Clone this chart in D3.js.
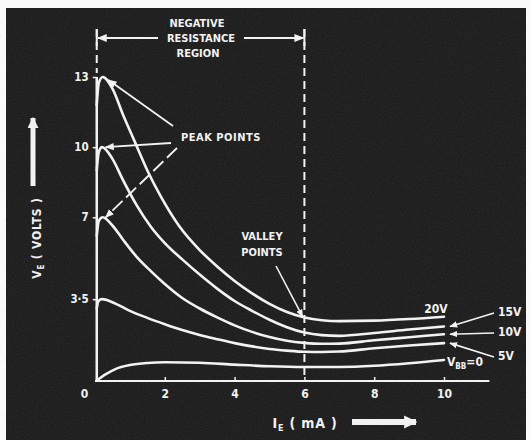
<!DOCTYPE html>
<html>
<head>
<meta charset="utf-8">
<script src="https://cdn.jsdelivr.net/npm/d3@7"></script>
<style>
  html, body { margin: 0; padding: 0; background: #fff; }
  svg text { font-family: "DejaVu Sans Condensed", "DejaVu Sans", sans-serif; font-weight: bold; fill: #f2f2f2; }
</style>
</head>
<body>
<script>
// UJT emitter characteristics, V_E vs I_E, one curve per V_BB
var seriesNames = ["20V", "15V", "10V", "5V", "VBB=0"];
var peakValues = [13, 10, 7, 3.5];
var yTickLabels = ["3·5", "7", "10", "13"];
var xTickValues = [0, 2, 4, 6, 8, 10];

// [I_E (mA), V_E (V)]
var curve20 = [[0.05,11.8],[0.11,12.75],[0.22,13.0],[0.5,12.5],[0.8,11.4],[1.12,10.3],[1.5,9.0],[1.9,7.85],
    [2.4,6.65],[3.0,5.6],[3.5,4.9],[4.0,4.28],[4.5,3.75],[5.0,3.3],[5.5,2.95],[6.0,2.72],[6.5,2.6],
    [7,2.56],[8,2.58],[9,2.65],[10,2.75]];
var curve15 = [[0.05,9.0],[0.11,9.8],[0.2,10.0],[0.5,9.5],[0.8,8.6],[1.2,7.5],[1.6,6.6],[2.0,5.9],
    [2.5,5.2],[3.0,4.55],[3.5,3.95],[4.0,3.42],[4.5,3.0],[5.0,2.62],[5.5,2.3],[6.0,2.07],[6.5,1.96],
    [7,1.93],[8,2.05],[9,2.2],[10,2.33]];
var curve10 = [[0.05,6.2],[0.11,6.85],[0.22,7.0],[0.5,6.65],[0.8,6.05],[1.2,5.3],[1.6,4.7],[2.0,4.15],
    [2.5,3.55],[3.0,3.1],[3.5,2.72],[4.0,2.38],[4.5,2.1],[5.0,1.88],[5.5,1.72],[6.0,1.63],[6.5,1.59],
    [7,1.6],[8,1.74],[9,1.87],[10,2.0]];
var curve5 = [[0.05,3.1],[0.1,3.42],[0.2,3.5],[0.6,3.3],[1.0,3.0],[1.5,2.7],[2.0,2.43],[2.5,2.18],
    [3.0,1.97],[3.5,1.79],[4.0,1.62],[4.5,1.48],[5.0,1.37],[5.5,1.3],[6.0,1.25],[6.5,1.24],[7,1.26],
    [8,1.4],[9,1.52],[10,1.62]];
var curve0 = [[0.05,0.02],[0.3,0.28],[0.6,0.52],[1.0,0.68],[1.5,0.77],[2,0.8],[3,0.78],[4,0.7],
    [5,0.63],[6,0.6],[7,0.6],[8,0.65],[9,0.76],[10,0.9]];
var curves = [curve20, curve15, curve10, curve5, curve0];

var width = 530, height = 440;
var svg = d3.select("body").append("svg")
    .attr("width", width)
    .attr("height", height);

var defs = svg.append("defs");
defs.append("marker")
    .attr("id", "head")
    .attr("viewBox", "0 0 10 10")
    .attr("refX", 9).attr("refY", 5)
    .attr("markerWidth", 5).attr("markerHeight", 5)
    .attr("markerUnits", "strokeWidth")
    .attr("orient", "auto-start-reverse")
    .append("path").attr("d", "M0,1 L10,5 L0,9 Z").attr("fill", "#f2f2f2");
defs.append("marker")
    .attr("id", "bighead")
    .attr("viewBox", "0 0 10 10")
    .attr("refX", 9).attr("refY", 5)
    .attr("markerWidth", 2.2).attr("markerHeight", 2.2)
    .attr("markerUnits", "strokeWidth")
    .attr("orient", "auto")
    .append("path").attr("d", "M0,0 L10,5 L0,10 Z").attr("fill", "#f2f2f2");

// grainy photo background
var grain = defs.append("filter").attr("id", "grain");
grain.append("feTurbulence").attr("type", "fractalNoise").attr("baseFrequency", 0.9).attr("numOctaves", 2).attr("seed", 3);
grain.append("feColorMatrix").attr("type", "matrix")
    .attr("values", "0 0 0 0 0.5  0 0 0 0 0.5  0 0 0 0 0.5  0 0 0 0.35 0");

svg.append("rect").attr("x", 6).attr("y", 8).attr("width", 520).attr("height", 432).attr("fill", "#161616");
svg.append("rect").attr("x", 6).attr("y", 8).attr("width", 520).attr("height", 432)
    .attr("filter", "url(#grain)").attr("opacity", 0.4);

var x = d3.scaleLinear().domain([0, 10]).range([95, 444]);
var y = d3.scaleLinear().domain([0, 13]).range([381, 77]);

var ink = "#f2f2f2";

// x axis
var xAxis = svg.append("g")
    .attr("transform", "translate(0," + y(0) + ")")
    .call(d3.axisBottom(x).tickValues(xTickValues).tickSize(-4).tickPadding(8));
xAxis.select(".domain").remove();
xAxis.selectAll("line").attr("stroke", ink).attr("stroke-width", 1.5);
xAxis.selectAll("text").attr("font-size", 12).attr("fill", ink);
xAxis.selectAll(".tick").filter(function (d) { return d === 0; })
    .select("line").remove();
xAxis.selectAll(".tick").filter(function (d) { return d === 0; })
    .select("text").attr("x", -11);
svg.append("line")
    .attr("x1", x(0)).attr("x2", x(11.3))
    .attr("y1", y(0)).attr("y2", y(0))
    .attr("stroke", ink).attr("stroke-width", 2);

// y axis
var yAxis = svg.append("g")
    .attr("transform", "translate(" + x(0.05) + ",0)")
    .call(d3.axisLeft(y).tickValues([3.5, 7, 10, 13]).tickSize(4).tickPadding(4)
        .tickFormat(function (d, i) { return yTickLabels[i]; }));
yAxis.select(".domain").attr("stroke", ink).attr("stroke-width", 2.5)
    .attr("d", "M0," + y(0) + "V" + y(13));
yAxis.selectAll("line").attr("stroke", ink).attr("stroke-width", 1.5);
yAxis.selectAll("text").attr("font-size", 11.5).attr("fill", ink);

// characteristic curves
var line = d3.line()
    .x(function (d) { return x(d[0]); })
    .y(function (d) { return y(d[1]); })
    .curve(d3.curveMonotoneX);

svg.append("g").selectAll("path")
    .data(curves)
    .enter().append("path")
    .attr("d", line)
    .attr("fill", "none")
    .attr("stroke", ink)
    .attr("stroke-width", 2.6)
    .attr("stroke-linecap", "round");

// negative resistance region
[0.05, 6].forEach(function (v) {
    svg.append("line")
        .attr("x1", x(v)).attr("x2", x(v))
        .attr("y1", 29).attr("y2", v === 6 ? y(0) : y(13) - 4)
        .attr("stroke", ink).attr("stroke-width", 2)
        .attr("stroke-dasharray", "8,5");
    svg.append("line")
        .attr("x1", x(v)).attr("x2", x(v))
        .attr("y1", 29).attr("y2", 46)
        .attr("stroke", ink).attr("stroke-width", 2);
});
svg.append("line").attr("x1", 158).attr("y1", 38).attr("x2", x(0.05) + 1).attr("y2", 38)
    .attr("stroke", ink).attr("stroke-width", 2).attr("marker-end", "url(#head)");
svg.append("line").attr("x1", 244).attr("y1", 38).attr("x2", x(6) - 1).attr("y2", 38)
    .attr("stroke", ink).attr("stroke-width", 2).attr("marker-end", "url(#head)");
svg.append("text").attr("x", 197).attr("y", 27).attr("text-anchor", "middle").attr("font-size", 11).text("NEGATIVE");
svg.append("text").attr("x", 201).attr("y", 42).attr("text-anchor", "middle").attr("font-size", 11).text("RESISTANCE");
svg.append("text").attr("x", 198).attr("y", 57).attr("text-anchor", "middle").attr("font-size", 11).text("REGION");

// peak points
svg.append("text").attr("x", 181).attr("y", 141).attr("font-size", 11).attr("letter-spacing", 0.5).text("PEAK POINTS");
var peakX = [0.3, 0.22, 0.22];
var peakFrom = [[173, 126], [171, 143], [177, 148]];
peakFrom.forEach(function (p, i) {
    svg.append("line")
        .attr("x1", p[0]).attr("y1", p[1])
        .attr("x2", x(peakX[i]) + 3).attr("y2", y(peakValues[i]) + (i === 0 ? 3 : 0))
        .attr("stroke", ink).attr("stroke-width", 1.8)
        .attr("stroke-dasharray", i === 2 ? "14,5" : null)
        .attr("marker-end", "url(#head)");
});

// valley points
svg.append("text").attr("x", 262).attr("y", 240).attr("text-anchor", "middle").attr("font-size", 11).text("VALLEY");
svg.append("text").attr("x", 262).attr("y", 256).attr("text-anchor", "middle").attr("font-size", 11).text("POINTS");
svg.append("line").attr("x1", 276).attr("y1", 266).attr("x2", x(5.95)).attr("y2", y(2.75))
    .attr("stroke", ink).attr("stroke-width", 1.6).attr("marker-end", "url(#head)");

// series labels at the right
svg.append("text").attr("x", 436).attr("y", 313).attr("text-anchor", "middle").attr("font-size", 12).text(seriesNames[0]);
var sideY = [316, 336, 360];
var sideTip = [curve15, curve10, curve5];
sideY.forEach(function (ty, i) {
    var last = sideTip[i][sideTip[i].length - 1];
    svg.append("text").attr("x", 498).attr("y", ty).attr("font-size", 12).text(seriesNames[i + 1]);
    svg.append("line")
        .attr("x1", 494).attr("y1", ty - 3)
        .attr("x2", x(last[0]) + 6).attr("y2", y(last[1]))
        .attr("stroke", ink).attr("stroke-width", 1.6)
        .attr("marker-end", "url(#head)");
});
var vbb = svg.append("text").attr("x", 447).attr("y", 366).attr("font-size", 12);
vbb.append("tspan").text("V");
vbb.append("tspan").attr("font-size", 8).attr("dy", 3).text("BB");
vbb.append("tspan").attr("dy", -3).text("=0");

// axis titles
var yt = svg.append("text")
    .attr("transform", "translate(41,238) rotate(-90)")
    .attr("text-anchor", "middle").attr("font-size", 12).attr("letter-spacing", 0.8);
yt.append("tspan").text("V");
yt.append("tspan").attr("font-size", 8).attr("dy", 3).text("E");
yt.append("tspan").attr("dy", -3).text(" ( VOLTS )");
svg.append("line").attr("x1", 33).attr("y1", 186).attr("x2", 33).attr("y2", 118)
    .attr("stroke", ink).attr("stroke-width", 5).attr("marker-end", "url(#bighead)");

var xt = svg.append("text")
    .attr("x", 305).attr("y", 428)
    .attr("text-anchor", "middle").attr("font-size", 14).attr("letter-spacing", 0.8);
xt.append("tspan").text("I");
xt.append("tspan").attr("font-size", 9).attr("dy", 3).text("E");
xt.append("tspan").attr("dy", -3).text(" ( mA )");
svg.append("line").attr("x1", 352).attr("y1", 422).attr("x2", 416).attr("y2", 422)
    .attr("stroke", ink).attr("stroke-width", 6).attr("marker-end", "url(#bighead)");
</script>
</body>
</html>
